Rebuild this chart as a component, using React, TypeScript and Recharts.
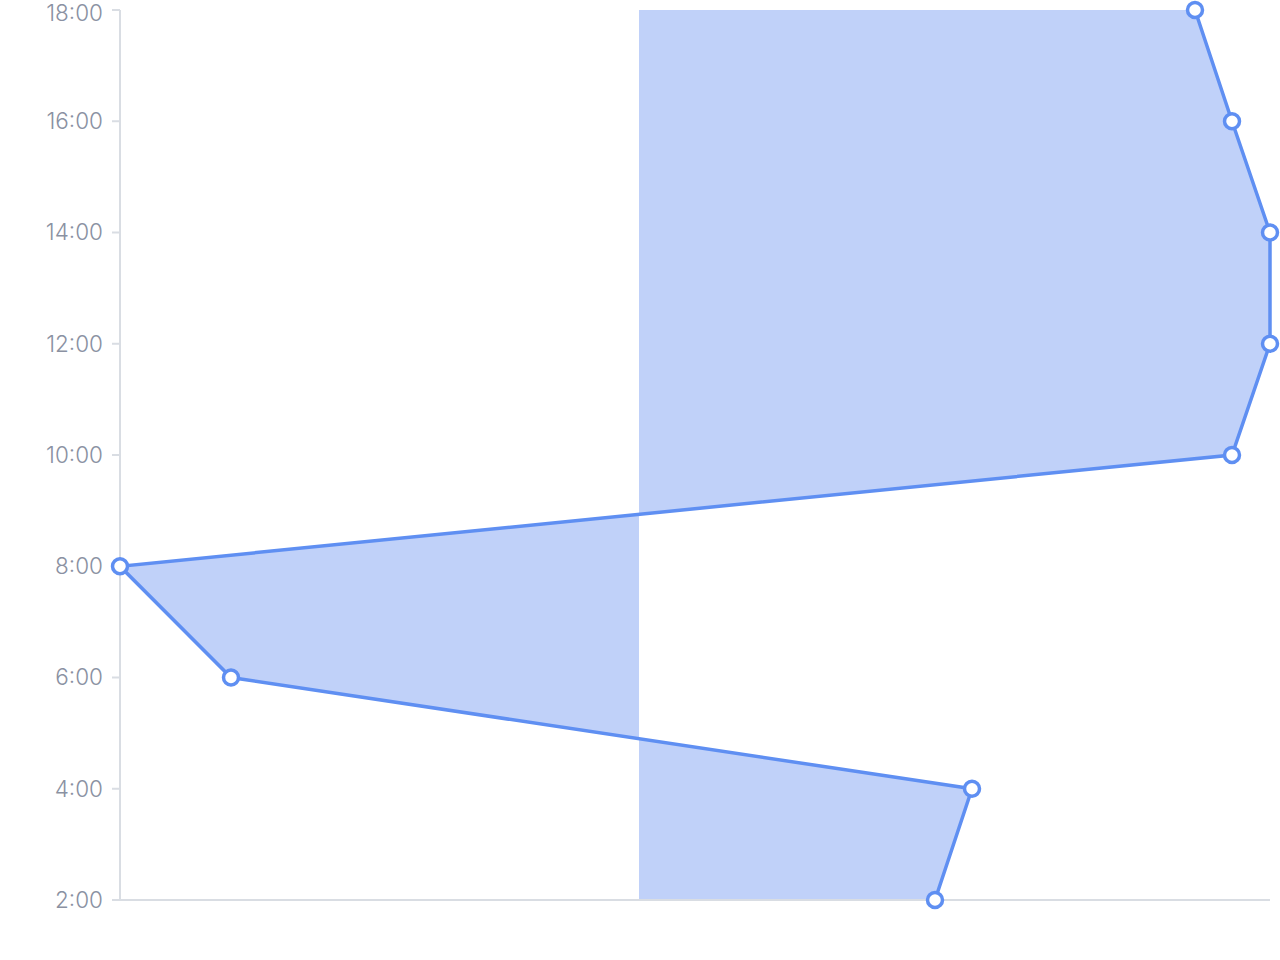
import { AreaChart, Area, XAxis, YAxis } from 'recharts';

// time slots, bottom to top
const TIMES = ['2:00', '4:00', '6:00', '8:00', '10:00', '12:00', '14:00', '16:00', '18:00'];
// value per slot
const VALUES = [296, 333, -408, -519, 593, 631, 631, 593, 556];

const data = TIMES.map((time, i) => ({ time, value: VALUES[i] }));

const LINE = '#5f8ff2';
const AXIS = '#d9dde3';
const LABEL = '#8a91a2';

export default function App() {
    return (
        <div style={{ position: 'absolute', left: 0, top: 0, width: 1280, height: 960, background: '#fff' }}>
            <AreaChart
                width={1280}
                height={960}
                data={data}
                layout="vertical"
                margin={{ top: 10, right: 10, bottom: 0, left: 0 }}
            >
                <XAxis
                    type="number"
                    domain={['dataMin', 'dataMax']}
                    height={60}
                    tick={false}
                    tickLine={false}
                    axisLine={{ stroke: AXIS, strokeWidth: 2 }}
                />
                <YAxis
                    type="category"
                    dataKey="time"
                    reversed
                    width={120}
                    tickSize={8}
                    tickMargin={9}
                    axisLine={{ stroke: AXIS, strokeWidth: 2 }}
                    tickLine={{ stroke: AXIS, strokeWidth: 2 }}
                    tick={{ fill: LABEL, fontSize: 22.5, fontFamily: 'Inter', fontWeight: 300 }}
                />
                <Area
                    type="linear"
                    dataKey="value"
                    stroke={LINE}
                    strokeWidth={3.5}
                    fill="#c0d1f9"
                    fillOpacity={1}
                    dot={{ r: 7.5, fill: '#fff', stroke: LINE, strokeWidth: 3.5 }}
                    activeDot={false}
                    isAnimationActive={false}
                />
            </AreaChart>
        </div>
    );
}
